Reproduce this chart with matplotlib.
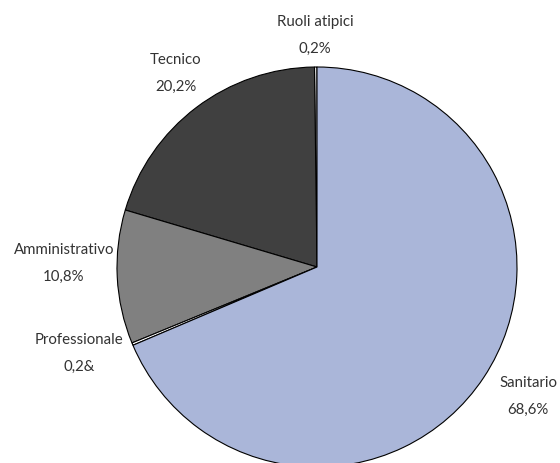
import matplotlib
matplotlib.use("Agg")
import matplotlib.pyplot as plt

# data (counterclockwise from the top)
categories = ["Ruoli atipici", "Tecnico", "Amministrativo", "Professionale", "Sanitario"]
pct_labels = ["0,2%", "20,2%", "10,8%", "0,2&", "68,6%"]
values = [0.2, 20.2, 10.8, 0.2, 68.6]
colors = ["#ffffff", "#404040", "#808080", "#ffffff", "#aab6d9"]

# label positions in pixels from the top-left (name; percentage sits below)
label_pos = [(315, 22), (176, 60), (64, 250), (79, 340), (528, 383)]

W, H = 560, 463
fig = plt.figure(figsize=(W / 100, H / 100), dpi=100)
ax = fig.add_axes([0, 0, 1, 1])

ax.pie(values, colors=colors, startangle=90, counterclock=True,
       center=(317, H - 267), radius=200, frame=True,
       wedgeprops=dict(edgecolor="black", linewidth=0.8))
ax.set_xlim(0, W)
ax.set_ylim(0, H)
ax.set_aspect("equal")
ax.axis("off")

for name, pct, (x, y) in zip(categories, pct_labels, label_pos):
    ax.text(x, H - y, name, ha="center", va="center", fontsize=10.8,
            family="Lato", color="#333333")
    ax.text(x, H - y - 27, pct, ha="center", va="center", fontsize=10.8,
            family="Lato", color="#333333")

fig.savefig("out.png", dpi=100)
